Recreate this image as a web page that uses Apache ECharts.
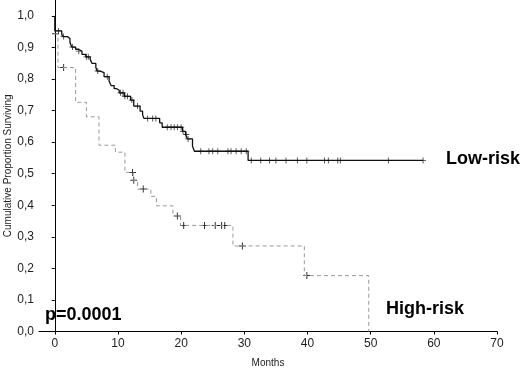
<!DOCTYPE html>
<html>
<head>
<meta charset="utf-8">
<script src="https://cdn.jsdelivr.net/npm/echarts@6/dist/echarts.min.js"></script>
<style>
html, body { margin: 0; padding: 0; background: #fff; }
#graph { width: 520px; height: 370px; }
</style>
</head>
<body>
<div id="graph"></div>
<script>
// Kaplan-Meier steps: time (months) and survival after the step
var lowTimes = [0, 0, 1.1, 1.3, 2.0, 2.4, 2.7, 3.3, 3.7, 4.3, 4.9, 5.6, 5.9, 6.5, 6.7, 7.2, 7.8, 8.6, 8.9, 9.4, 9.8, 10.2, 11.0, 12.0, 12.5, 13.5, 13.9, 14.1, 16.6, 17.0, 20.2, 20.7, 21.0, 21.8, 22.1, 30.6, 58.3];
var lowSurv  = [1.0, 0.952, 0.941, 0.934, 0.928, 0.915, 0.901, 0.894, 0.888, 0.878, 0.870, 0.862, 0.849, 0.836, 0.825, 0.820, 0.807, 0.793, 0.779, 0.769, 0.764, 0.756, 0.745, 0.733, 0.714, 0.698, 0.687, 0.675, 0.661, 0.647, 0.634, 0.624, 0.610, 0.587, 0.571, 0.542, 0.542];
var lowCensor = [0.6, 1.4, 2.8, 3.8, 5.0, 5.3, 6.8, 8.3, 10.4, 10.8, 11.1, 11.5, 12.2, 13.1, 14.7, 15.5, 16.0, 17.8, 18.4, 18.9, 19.4, 20.0, 20.3, 20.8, 21.1, 23.1, 24.4, 25.0, 25.8, 27.4, 27.9, 28.7, 29.5, 30.3, 31.1, 32.6, 34.0, 35.0, 36.6, 38.4, 39.9, 42.7, 43.3, 44.8, 45.2, 52.8, 58.3];

var highTimes = [0, 0.5, 3.3, 5.0, 7.0, 9.6, 11.1, 12.4, 13.1, 15.2, 16.1, 18.7, 19.9, 28.2, 39.5, 49.7];
var highSurv  = [0.943, 0.836, 0.726, 0.680, 0.590, 0.568, 0.504, 0.479, 0.451, 0.428, 0.398, 0.366, 0.336, 0.271, 0.177, 0];
var highCensor = [0.1, 1.4, 12.3, 12.5, 14.0, 19.4, 20.4, 23.7, 25.4, 26.4, 26.9, 29.7, 39.9];

var xTicks = [0, 10, 20, 30, 40, 50, 60, 70];
var yTicks = [0, 0.1, 0.2, 0.3, 0.4, 0.5, 0.6, 0.7, 0.8, 0.9, 1.0];

function zip(a, b) {
  var out = [];
  for (var i = 0; i < a.length; i++) out.push([a[i], b[i]]);
  return out;
}
function survAt(times, vals, t) {
  var v = vals[0];
  for (var i = 0; i < times.length; i++) {
    if (times[i] <= t) v = vals[i];
  }
  return v;
}
function censorPoints(cens, times, vals) {
  return cens.map(function (t) { return [t, survAt(times, vals, t)]; });
}

var plus = 'path://M3,0h1v3h3v1h-3v3h-1v-3h-3v-1h3z';

var myChart = echarts.init(document.getElementById('graph'));
var option = {
  animation: false,
  backgroundColor: '#fff',
  textStyle: { fontFamily: 'Liberation Sans, Arial, sans-serif' },
  grid: { left: 39, right: 23, top: 0, bottom: 38.5, outerBoundsMode: 'none', containLabel: false },
  xAxis: {
    type: 'value',
    min: -2.5,
    max: 70,
    name: 'Months',
    nameLocation: 'middle',
    nameGap: 27,
    nameMoveOverlap: false,
    nameTextStyle: { fontSize: 10, color: '#222' },
    axisLine: { lineStyle: { color: '#000', width: 1 } },
    axisTick: { customValues: xTicks, length: 3, lineStyle: { color: '#000' } },
    axisLabel: { customValues: xTicks, fontSize: 12, color: '#222', margin: 6 },
    splitLine: { show: false }
  },
  yAxis: {
    type: 'value',
    min: 0,
    max: 1.05,
    name: 'Cumulative Proportion Surviving',
    nameLocation: 'middle',
    nameGap: 26,
    nameMoveOverlap: false,
    nameTextStyle: { fontSize: 10, color: '#222' },
    axisLine: { show: true, lineStyle: { color: '#000', width: 1 } },
    axisTick: { show: true, customValues: yTicks, length: 3, lineStyle: { color: '#000' } },
    axisLabel: {
      customValues: yTicks, fontSize: 12, color: '#222', margin: 5,
      formatter: function (v) { return v.toFixed(1).replace('.', ','); }
    },
    splitLine: { show: false }
  },
  graphic: [
    { type: 'text', left: 446, top: 150, style: { text: 'Low-risk', font: 'bold 18px Liberation Sans, Arial', fill: '#000' } },
    { type: 'text', left: 386, top: 300, style: { text: 'High-risk', font: 'bold 18px Liberation Sans, Arial', fill: '#000' } },
    { type: 'text', left: 45, top: 306, style: { text: 'p=0.0001', font: 'bold 18px Liberation Sans, Arial', fill: '#000' } }
  ],
  series: [
    {
      name: 'High-risk',
      type: 'line',
      step: 'end',
      showSymbol: false,
      data: zip(highTimes, highSurv),
      lineStyle: { color: '#999', width: 1, type: [4, 3] }
    },
    {
      name: 'Low-risk',
      type: 'line',
      step: 'end',
      showSymbol: false,
      data: zip(lowTimes, lowSurv),
      lineStyle: { color: '#111', width: 1.3 }
    },
    {
      name: 'Low-risk censored',
      type: 'scatter',
      symbol: plus,
      symbolSize: 6,
      data: censorPoints(lowCensor, lowTimes, lowSurv),
      itemStyle: { color: '#111' }
    },
    {
      name: 'High-risk censored',
      type: 'scatter',
      symbol: plus,
      symbolSize: 7,
      data: censorPoints(highCensor, highTimes, highSurv),
      itemStyle: { color: '#000' }
    }
  ]
};
option && myChart.setOption(option);
</script>
</body>
</html>
